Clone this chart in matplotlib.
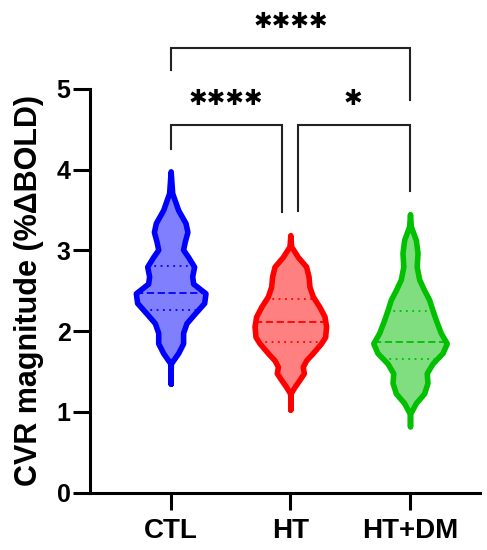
import numpy as np
import matplotlib
matplotlib.use('Agg')
import matplotlib.pyplot as plt

plt.rcParams['font.family'] = ['Liberation Sans', 'DejaVu Sans']
plt.rcParams['font.weight'] = 'bold'

groups = ['CTL', 'HT', 'HT+DM']
line_colors = ['#0000FF', '#FF0000', '#00C000']
fill_colors = ['#8080FF', '#FF8080', '#80DD80']

# violin outlines: value levels and half widths (x units)
ctl_levels = [3.98, 3.71, 3.50, 3.34, 3.23, 3.11, 3.01, 2.92, 2.80, 2.68, 2.59,
              2.47, 2.35, 2.22, 2.10, 1.98, 1.85, 1.73, 1.60, 1.48, 1.35]
ctl_width = [0, .013, .063, .124, .140, .118, .104, .146, .196, .180, .188,
             .291, .280, .202, .132, .104, .104, .063, .002, 0, 0]

ht_levels = [3.19, 3.05, 2.92, 2.80, 2.68, 2.55, 2.43, 2.30, 2.18, 2.06, 1.93,
             1.85, 1.73, 1.64, 1.56, 1.48, 1.40, 1.31, 1.23, 1.15, 1.03]
ht_width = [0, .007, .063, .132, .152, .160, .188, .244, .286, .299, .291,
            .257, .188, .132, .104, .113, .077, .035, .002, 0, 0]

htdm_levels = [3.45, 3.30, 3.13, 2.97, 2.80, 2.64, 2.51, 2.39, 2.26, 2.14,
               1.98, 1.85, 1.73, 1.60, 1.48, 1.36, 1.23, 1.11, 0.98, 0.82]
htdm_width = [0, .007, .049, .063, .056, .077, .118, .160, .188, .216,
              .257, .307, .272, .188, .140, .146, .118, .049, .002, 0]

# quartiles: q1, median, q3
ctl_quart = [2.26, 2.47, 2.81]
ht_quart = [1.87, 2.11, 2.40]
htdm_quart = [1.66, 1.87, 2.25]

levels = [ctl_levels, ht_levels, htdm_levels]
widths = [ctl_width, ht_width, htdm_width]
quarts = [ctl_quart, ht_quart, htdm_quart]

fig = plt.figure(figsize=(4.87, 5.5), dpi=100)
ax = fig.add_axes([90 / 487, 57.3 / 550, 390 / 487, 403.7 / 550])

for i in range(3):
    y = np.array(levels[i])
    w = np.array(widths[i])
    ax.fill_betweenx(y, i - w, i + w, facecolor=fill_colors[i],
                     edgecolor=line_colors[i], linewidth=4.0, joinstyle='round',
                     zorder=3)
    for k, q in enumerate(quarts[i]):
        hw = np.interp(q, y[::-1], w[::-1])
        ls = (0, (4, 2)) if k == 1 else (0, (1, 2.5))
        ax.plot([i - hw, i + hw], [q, q], color=line_colors[i], lw=1.3,
                linestyle=ls, zorder=4)

# significance brackets: x0, x1, bar height, left end, right end, stars, star x, star y
brackets = [
    (0, 2, 5.51, 5.23, 4.86, '✱✱✱✱', 1.0, 5.83),
    (0, 0.933, 4.55, 4.26, 3.48, '✱✱✱✱', 0.46, 4.87),
    (1.061, 2, 4.55, 3.49, 3.74, '✱', 1.52, 4.87),
]
for x0, x1, top, d0, d1, label, xt, yt in brackets:
    ax.plot([x0, x0, x1, x1], [d0, top, top, d1], color='#222222', lw=1.5,
            clip_on=False, solid_joinstyle='miter')
    ax.text(xt, yt, label, ha='center', va='center', fontsize=16,
            family='DejaVu Sans')

ax.set_xlim(-0.674, 2.585)
ax.set_ylim(0, 5)
ax.set_yticks([0, 1, 2, 3, 4, 5])
ax.set_xticks([0, 1, 2])
ax.set_xticklabels(groups)
ax.spines['top'].set_visible(False)
ax.spines['right'].set_visible(False)
for s in ['left', 'bottom']:
    ax.spines[s].set_linewidth(2.2)
ax.tick_params(axis='y', length=12, width=2.2, labelsize=18, pad=2)
ax.tick_params(axis='x', length=12, width=2.2, labelsize=20, pad=6)
ax.set_ylabel('CVR magnitude (%ΔBOLD)', fontsize=22, fontweight='bold',
              labelpad=9)

plt.savefig('out.png', dpi=100)
